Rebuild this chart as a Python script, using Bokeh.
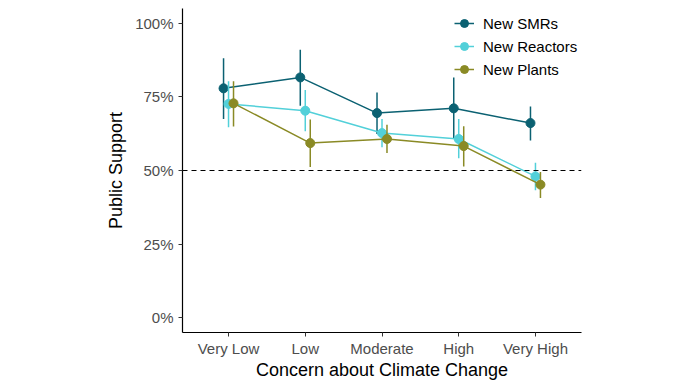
from bokeh.plotting import figure
from bokeh.models import FixedTicker, Span, Legend, LegendItem, ColumnDataSource, Range1d
from bokeh.embed import file_html
from bokeh.resources import INLINE

categories = ["Very Low", "Low", "Moderate", "High", "Very High"]
series = ["New SMRs", "New Reactors", "New Plants"]
colors = ["#0b6172", "#52d0d9", "#8a8a25"]

smr_mean = [77.9, 81.6, 69.5, 71.1, 66.1]
smr_low = [67.5, 72.0, 62.4, 60.7, 60.2]
smr_high = [88.1, 91.0, 76.5, 81.6, 71.7]

reac_mean = [72.6, 70.3, 62.7, 60.7, 48.0]
reac_low = [64.7, 63.3, 57.9, 54.2, 43.3]
reac_high = [80.3, 77.3, 67.5, 67.5, 52.6]

plant_mean = [72.8, 59.3, 60.7, 58.3, 45.2]
plant_low = [64.9, 51.2, 55.9, 51.4, 40.7]
plant_high = [80.3, 67.3, 65.5, 65.0, 49.5]

y_ticks = [0, 25, 50, 75, 100]
y_tick_labels = ["0%", "25%", "50%", "75%", "100%"]
reference_level = 50

FONT = "Liberation Sans"

p = figure(width=680, height=382, output_backend="svg", toolbar_location=None,
           x_range=Range1d(0.4, 5.6), y_range=Range1d(-5, 105),
           min_border_left=182, min_border_right=99, min_border_top=8, min_border_bottom=40)
p.outline_line_color = None
p.xgrid.grid_line_color = None
p.ygrid.grid_line_color = None
p.background_fill_color = "white"
p.border_fill_color = "white"

p.add_layout(Span(location=reference_level, dimension="width", line_color="black",
                  line_dash="5 4", line_width=1.2))

data = [(smr_mean, smr_low, smr_high), (reac_mean, reac_low, reac_high),
        (plant_mean, plant_low, plant_high)]
offsets = [-0.065, 0.0, 0.065]
items = []
for (m, lo, hi), c, off, name in zip(data, colors, offsets, series):
    xs = [i + 1 + off for i in range(len(categories))]
    src = ColumnDataSource(dict(x=xs, m=m, lo=lo, hi=hi))
    l = p.line("x", "m", source=src, line_color=c, line_width=1.5)
    p.segment(x0="x", y0="lo", x1="x", y1="hi", source=src, line_color=c, line_width=1.5)
    s = p.scatter("x", "m", source=src, size=9, fill_color=c, line_color=c)
    items.append(LegendItem(label=name, renderers=[l, s]))

legend = Legend(items=items, location=(272, 253), border_line_color=None,
                background_fill_alpha=0, padding=0, margin=0, spacing=3,
                glyph_width=20, glyph_height=20, label_height=20, label_standoff=9,
                label_text_font=FONT, label_text_font_size="15px", label_text_color="black")
p.add_layout(legend)

p.xaxis.ticker = FixedTicker(ticks=[1, 2, 3, 4, 5])
p.xaxis.major_label_overrides = {i + 1: c for i, c in enumerate(categories)}
p.yaxis.ticker = FixedTicker(ticks=y_ticks)
p.yaxis.major_label_overrides = {t: l for t, l in zip(y_ticks, y_tick_labels)}

p.xaxis.axis_label = "Concern about Climate Change"
p.yaxis.axis_label = "Public Support"
for ax in (p.xaxis, p.yaxis):
    ax.axis_label_text_font = FONT
    ax.axis_label_text_font_size = "18px"
    ax.axis_label_text_font_style = "normal"
    ax.axis_label_text_color = "black"
    ax.major_label_text_font = FONT
    ax.major_label_text_font_size = "15px"
    ax.major_label_text_color = "#4d4d4d"
    ax.axis_line_color = "black"
    ax.axis_line_width = 1.2
    ax.major_tick_line_color = "#333333"
    ax.major_tick_out = 4
    ax.major_tick_in = 0
    ax.minor_tick_line_color = None
p.xaxis.major_label_standoff = 3
p.yaxis.major_label_standoff = 5
p.xaxis.axis_label_standoff = 0
p.yaxis.axis_label_standoff = 6

open("out.html", "w").write(file_html(p, INLINE))
